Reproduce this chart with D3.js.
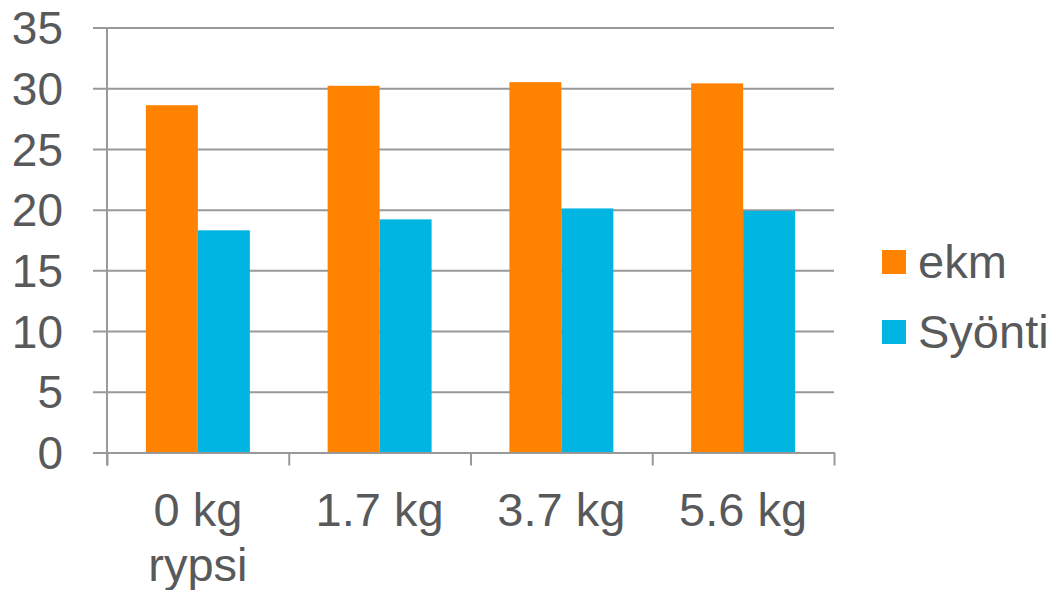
<!DOCTYPE html>
<html><head><meta charset="utf-8">
<script src="https://cdn.jsdelivr.net/npm/d3@7"></script>
<style>body{margin:0;background:#fff}svg{display:block}</style>
</head><body>
<svg id="c" width="1053" height="590"></svg>
<script>
const categories = [["0 kg","rypsi"],["1.7 kg"],["3.7 kg"],["5.6 kg"]];
const seriesNames = ["ekm","Syönti"];
const ekm = [28.6, 30.2, 30.5, 30.4];
const syonti = [18.3, 19.2, 20.1, 19.9];
const yTicks = [0,5,10,15,20,25,30,35];
const colors = ["#FF8300","#00B5E2"];

(function(){
const svg = d3.select("#c");
const pLeft = 107, pRight = 834, pTop = 27.5, pBottom = 452.5;
const font = "'Liberation Sans', Arial, sans-serif";
const textColor = "#58595B";
const gridColor = "#999999";

const x = d3.scaleBand().domain(d3.range(categories.length)).range([pLeft, pRight]).paddingInner(0.428).paddingOuter(0.214);
const x1 = d3.scaleBand().domain(d3.range(seriesNames.length)).range([0, x.bandwidth()]);
const y = d3.scaleLinear().domain([0,35]).range([pBottom, pTop]);

// grid
const yAxis = d3.axisLeft(y).tickValues(yTicks).tickSize(pLeft - 93).tickFormat(d3.format("d"));
const gy = svg.append("g").attr("transform", `translate(${pLeft},0)`).call(yAxis);
gy.select(".domain").remove();
gy.selectAll(".tick line").attr("stroke", gridColor).attr("stroke-width", 2)
  .attr("x1", pRight - pLeft);
gy.selectAll(".tick text").attr("x", -44).attr("fill", textColor)
  .style("font-family", font).style("font-size", "46px").attr("dy", "0.35em");

// bars
const data = categories.map((c, i) => [ekm[i], syonti[i]]);
const groups = svg.append("g").selectAll("g").data(data).join("g")
  .attr("transform", (d, i) => `translate(${x(i)},0)`);
groups.selectAll("rect").data(d => d).join("rect")
  .attr("x", (d, j) => x1(j)).attr("width", x1.bandwidth())
  .attr("y", d => y(d)).attr("height", d => y(0) - y(d))
  .attr("fill", (d, j) => colors[j]);

// y axis line
svg.append("line").attr("x1", pLeft).attr("x2", pLeft).attr("y1", pTop).attr("y2", pBottom + 13)
  .attr("stroke", gridColor).attr("stroke-width", 2);
// x axis
const xb = d3.scaleLinear().domain([0, categories.length]).range([pLeft, pRight]);
const gx = svg.append("g").attr("transform", `translate(0,${pBottom})`)
  .call(d3.axisBottom(xb).tickValues(d3.range(categories.length + 1)).tickSize(13).tickSizeOuter(0).tickFormat(""));
gx.select(".domain").attr("stroke", gridColor).attr("stroke-width", 2);
gx.selectAll(".tick line").attr("stroke", gridColor).attr("stroke-width", 2);

// category labels
const lab = svg.append("g").selectAll("text").data(categories).join("text")
  .attr("x", (d, i) => x(i) + x.bandwidth() / 2).attr("y", 526)
  .attr("text-anchor", "middle").attr("fill", textColor)
  .style("font-family", font).style("font-size", "47px");
lab.selectAll("tspan").data(d => d).join("tspan")
  .attr("x", function() { return this.parentNode.getAttribute("x"); })
  .attr("dy", (d, k) => k === 0 ? 0 : 55).text(d => d);

// legend
const leg = svg.append("g").selectAll("g").data(seriesNames).join("g")
  .attr("transform", (d, i) => `translate(882,${250 + i * 70})`);
leg.append("rect").attr("width", 24).attr("height", 24).attr("fill", (d, i) => colors[i]);
leg.append("text").attr("x", 36).attr("y", 28).text(d => d).attr("fill", textColor)
  .style("font-family", font).style("font-size", "47px");
})();
</script>
</body></html>
